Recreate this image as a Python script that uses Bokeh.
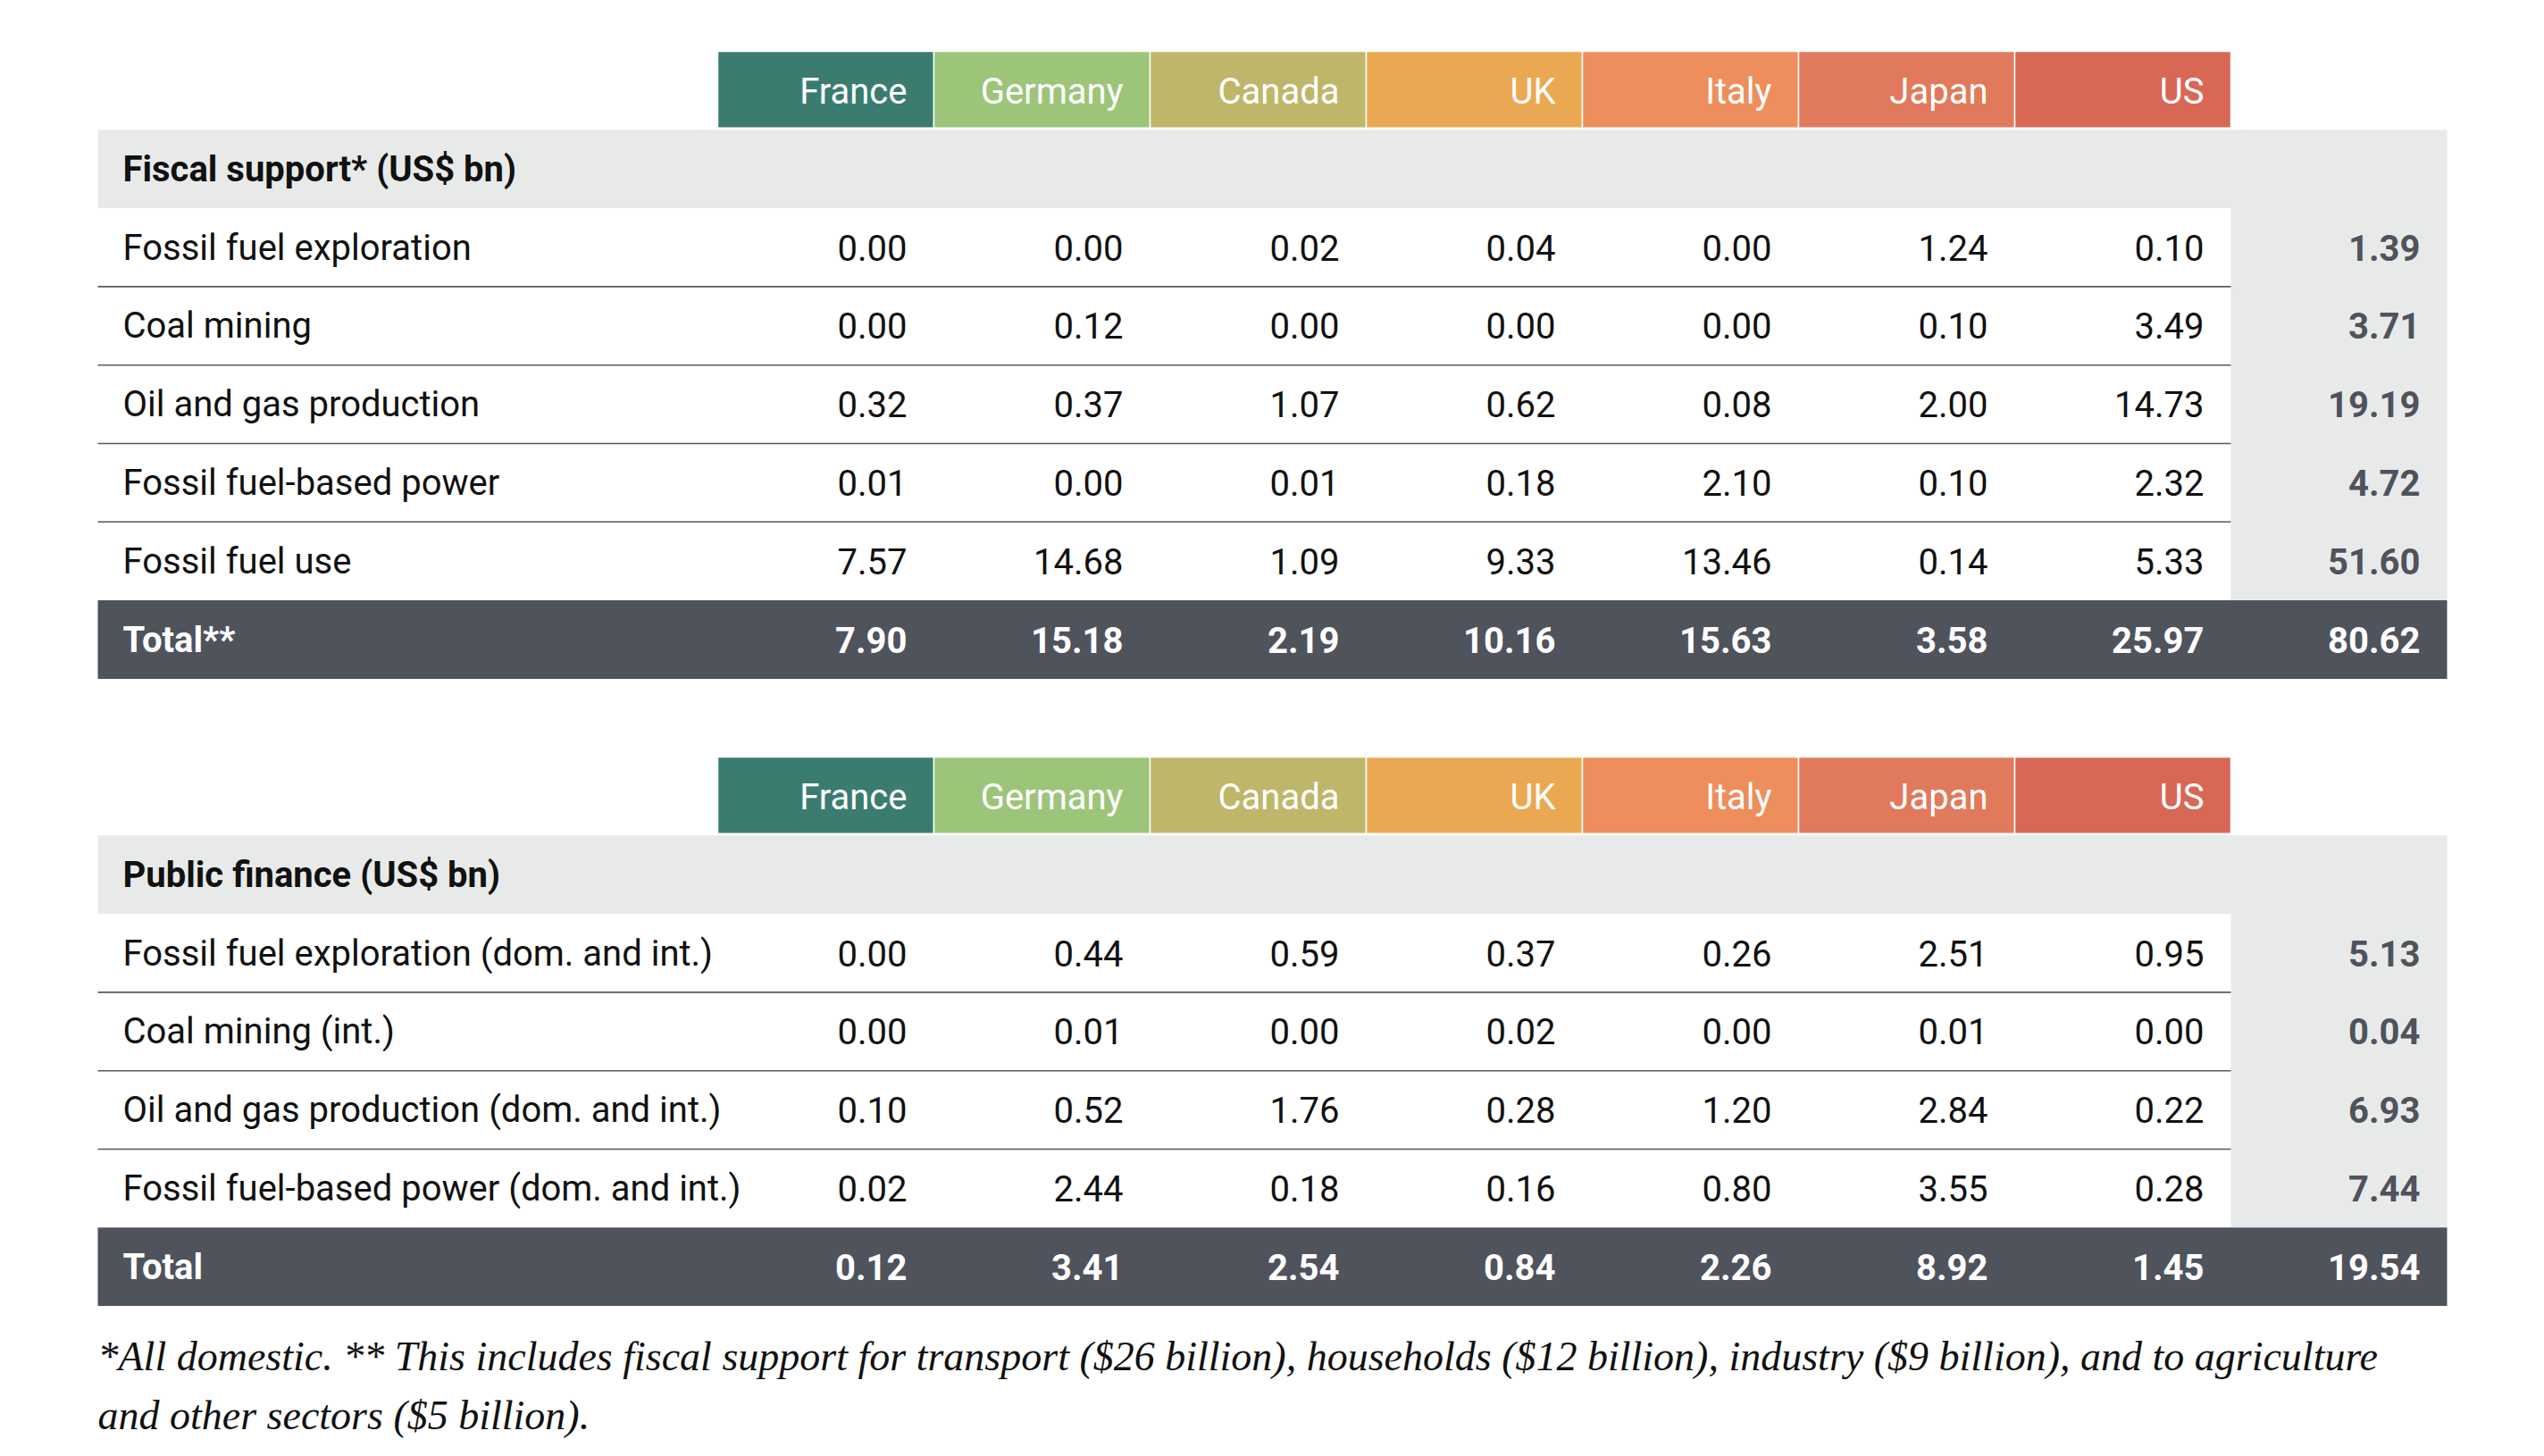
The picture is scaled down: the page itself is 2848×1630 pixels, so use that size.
from bokeh.plotting import figure
from bokeh.models import Range1d
from bokeh.core.properties import value
from bokeh.embed import file_html
from bokeh.resources import INLINE

# ---------------- data ----------------
countries = ["France", "Germany", "Canada", "UK", "Italy", "Japan", "US"]
country_colors = ["#3A7D70", "#9CC57A", "#BFB66A", "#EBA853", "#EE8E5C", "#E17A5C", "#D86756"]

fiscal_title = "Fiscal support* (US$ bn)"
fiscal_labels = ["Fossil fuel exploration", "Coal mining", "Oil and gas production",
                 "Fossil fuel-based power", "Fossil fuel use"]
fiscal_exploration = [0.00, 0.00, 0.02, 0.04, 0.00, 1.24, 0.10]
fiscal_coal = [0.00, 0.12, 0.00, 0.00, 0.00, 0.10, 3.49]
fiscal_oil_gas = [0.32, 0.37, 1.07, 0.62, 0.08, 2.00, 14.73]
fiscal_power = [0.01, 0.00, 0.01, 0.18, 2.10, 0.10, 2.32]
fiscal_use = [7.57, 14.68, 1.09, 9.33, 13.46, 0.14, 5.33]
fiscal_row_totals = [1.39, 3.71, 19.19, 4.72, 51.60]
fiscal_total_label = "Total**"
fiscal_col_totals = [7.90, 15.18, 2.19, 10.16, 15.63, 3.58, 25.97]
fiscal_grand_total = 80.62

public_title = "Public finance (US$ bn)"
public_labels = ["Fossil fuel exploration (dom. and int.)", "Coal mining (int.)",
                 "Oil and gas production (dom. and int.)", "Fossil fuel-based power (dom. and int.)"]
public_exploration = [0.00, 0.44, 0.59, 0.37, 0.26, 2.51, 0.95]
public_coal = [0.00, 0.01, 0.00, 0.02, 0.00, 0.01, 0.00]
public_oil_gas = [0.10, 0.52, 1.76, 0.28, 1.20, 2.84, 0.22]
public_power = [0.02, 2.44, 0.18, 0.16, 0.80, 3.55, 0.28]
public_row_totals = [5.13, 0.04, 6.93, 7.44]
public_total_label = "Total"
public_col_totals = [0.12, 3.41, 2.54, 0.84, 2.26, 8.92, 1.45]
public_grand_total = 19.54

footnote_lines = [
    "*All domestic. ** This includes fiscal support for transport ($26 billion), households ($12 billion), industry ($9 billion), and to agriculture",
    "and other sectors ($5 billion).",
]

# ---------------- layout ----------------
W, H = 2832, 1614
X0 = 109            # table left
COL0 = 803          # first country column left
CW = 242            # column width
XR = COL0 + 8 * CW  # right edge of totals column
RH = 87.8           # row height
PAD = 30            # right padding of numbers
LABEL_X = 137
T_TOPS = [57, 847]

SANS = "Roboto"
FS = "40px"
GREY_BG = "#E8EAE9"
DARK = "#4F535C"

p = figure(width=W, height=H, x_range=Range1d(0, W), y_range=Range1d(H, 0),
           output_backend="svg", toolbar_location=None, min_border=0)
p.axis.visible = False
p.grid.visible = False
p.outline_line_color = None
p.background_fill_color = "white"
p.border_fill_color = "white"


def fmt(v):
    return f"{v:.2f}"


def draw_table(top, title, labels, rows, row_totals, total_label, col_totals, grand_total):
    n = len(labels)
    # header cells
    p.quad(left=[COL0 + i * CW for i in range(7)], right=[COL0 + (i + 1) * CW for i in range(7)],
           top=[top] * 7, bottom=[top + RH - 2] * 7, fill_color=country_colors,
           line_color="white", line_width=1.5)
    p.text(x=[COL0 + (i + 1) * CW - PAD for i in range(7)], y=[top + RH / 2 + 1] * 7, text=countries,
           text_align="right", text_baseline="middle", text_color="white",
           text_font=value(SANS), text_font_size=FS)
    # section title row (grey)
    sec_top = top + RH
    p.quad(left=[X0], right=[XR], top=[sec_top], bottom=[sec_top + RH],
           fill_color=GREY_BG, line_color=None)
    p.text(x=[LABEL_X], y=[sec_top + RH / 2], text=[title], text_align="left",
           text_baseline="middle", text_color="#111111", text_font=value(SANS),
           text_font_size=FS, text_font_style="bold")
    # totals column grey background for data rows
    d_top = top + 2 * RH
    p.quad(left=[COL0 + 7 * CW], right=[XR], top=[d_top], bottom=[d_top + n * RH],
           fill_color=GREY_BG, line_color=None)
    # row separators
    ys = [d_top + (k + 1) * RH for k in range(n - 1)]
    p.segment(x0=[X0] * len(ys), x1=[COL0 + 7 * CW] * len(ys), y0=ys, y1=ys,
              line_color="#5A5A5A", line_width=1.6)
    # data rows
    for k in range(n):
        yc = d_top + k * RH + RH / 2
        p.text(x=[LABEL_X], y=[yc], text=[labels[k]], text_align="left", text_baseline="middle",
               text_color="#111111", text_font=value(SANS), text_font_size=FS)
        p.text(x=[COL0 + (i + 1) * CW - PAD for i in range(7)], y=[yc] * 7,
               text=[fmt(v) for v in rows[k]], text_align="right", text_baseline="middle",
               text_color="#111111", text_font=value(SANS), text_font_size=FS)
        p.text(x=[XR - PAD], y=[yc], text=[fmt(row_totals[k])], text_align="right",
               text_baseline="middle", text_color=DARK, text_font=value(SANS),
               text_font_size=FS, text_font_style="bold")
    # total row
    t_top = d_top + n * RH
    p.quad(left=[X0], right=[XR], top=[t_top], bottom=[t_top + RH], fill_color=DARK,
           line_color=None)
    yc = t_top + RH / 2
    p.text(x=[LABEL_X], y=[yc], text=[total_label], text_align="left", text_baseline="middle",
           text_color="white", text_font=value(SANS), text_font_size=FS, text_font_style="bold")
    p.text(x=[COL0 + (i + 1) * CW - PAD for i in range(8)], y=[yc] * 8,
           text=[fmt(v) for v in col_totals] + [fmt(grand_total)], text_align="right",
           text_baseline="middle", text_color="white", text_font=value(SANS),
           text_font_size=FS, text_font_style="bold")


draw_table(T_TOPS[0], fiscal_title, fiscal_labels,
           [fiscal_exploration, fiscal_coal, fiscal_oil_gas, fiscal_power, fiscal_use],
           fiscal_row_totals, fiscal_total_label, fiscal_col_totals, fiscal_grand_total)
draw_table(T_TOPS[1], public_title, public_labels,
           [public_exploration, public_coal, public_oil_gas, public_power],
           public_row_totals, public_total_label, public_col_totals, public_grand_total)

p.text(x=[X0, X0], y=[1518, 1584], text=footnote_lines, text_align="left", text_baseline="middle",
       text_color="#111111", text_font=value("Liberation Serif"), text_font_size="46px",
       text_font_style="italic")

open("out.html", "w").write(file_html(p, INLINE))
